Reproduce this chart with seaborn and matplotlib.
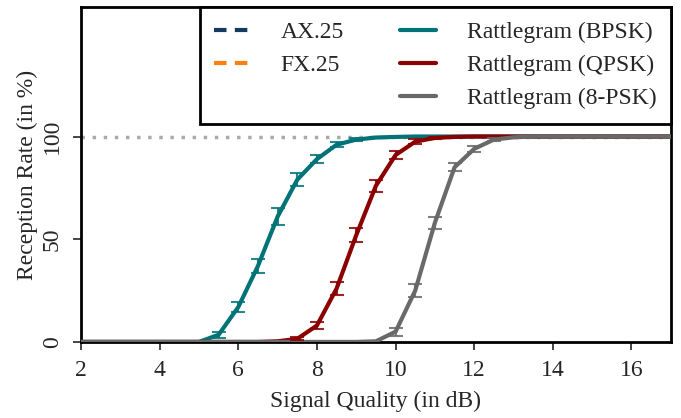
import numpy as np
import pandas as pd
import matplotlib
matplotlib.use("Agg")
import matplotlib.pyplot as plt
from matplotlib.lines import Line2D
import seaborn as sns

# ---- data ----
snr = [2, 3, 4, 5.0, 5.5, 6.0, 6.5, 7.0, 7.5, 8.0, 8.5, 9.0, 9.5, 10.0, 10.5,
       11.0, 11.5, 12.0, 12.5, 13.0, 13.5, 14, 15, 16, 17]
bpsk = [0, 0, 0, 0, 3.5, 17, 37, 61, 79, 89, 96, 98.5, 99.5, 99.8, 100,
        100, 100, 100, 100, 100, 100, 100, 100, 100, 100]
bpsk_err = [0, 0, 0, 0, 1.5, 2.5, 3.5, 4, 3, 2, 1.2, 0.8, 0.4, 0.2, 0,
            0, 0, 0, 0, 0, 0, 0, 0, 0, 0]
qpsk = [0, 0, 0, 0, 0, 0, 0, 0.3, 1.5, 8, 26, 52, 76, 91, 97.5,
        99.3, 99.8, 100, 100, 100, 100, 100, 100, 100, 100]
qpsk_err = [0, 0, 0, 0, 0, 0, 0, 0, 0.8, 1.5, 3, 3.5, 3, 2, 1.2,
            0.5, 0.2, 0, 0, 0, 0, 0, 0, 0, 0]
psk8 = [0, 0, 0, 0, 0, 0, 0, 0, 0, 0, 0, 0, 0.3, 5, 25,
        58, 85, 94, 98.5, 99.6, 100, 100, 100, 100, 100]
psk8_err = [0, 0, 0, 0, 0, 0, 0, 0, 0, 0, 0, 0, 0, 2, 3,
            3, 2, 1.5, 0.8, 0.3, 0, 0, 0, 0, 0]

series_names = ["Rattlegram (BPSK)", "Rattlegram (QPSK)", "Rattlegram (8-PSK)"]
series_vals = [bpsk, qpsk, psk8]
series_errs = [bpsk_err, qpsk_err, psk8_err]
colors = {"Rattlegram (BPSK)": "#007377",
          "Rattlegram (QPSK)": "#8b0000",
          "Rattlegram (8-PSK)": "#696969"}
other_names = ["AX.25", "FX.25"]
other_colors = ["#163a5f", "#ff7f0e"]

sns.set_style("ticks")
plt.rcParams["font.family"] = ["Liberation Serif", "DejaVu Serif"]

rows = []
for name, vals in zip(series_names, series_vals):
    for x, v in zip(snr, vals):
        rows.append({"snr": x, "rate": v, "series": name})
df = pd.DataFrame(rows)

fig = plt.figure(figsize=(6.81, 4.18), dpi=100)
ax = fig.add_axes([0.119, 0.182, 0.866, 0.801])

ax.axhline(100, color="#aaaaaa", linestyle=(0, (1, 2.2)), linewidth=2.5, zorder=1)

sns.lineplot(data=df, x="snr", y="rate", hue="series", palette=colors,
             hue_order=series_names, linewidth=3, legend=False, ax=ax,
             zorder=3)

for name, vals, errs in zip(series_names, series_vals, series_errs):
    xs = [x for x, e in zip(snr, errs) if e > 0]
    ys = [v for v, e in zip(vals, errs) if e > 0]
    es = [e for e in errs if e > 0]
    ax.errorbar(xs, ys, yerr=es, fmt="none", ecolor=colors[name],
                elinewidth=1.5, capsize=5, capthick=1.5, alpha=0.85, zorder=4)

ax.set_xlim(2, 17)
ax.set_ylim(0, 163)
ax.set_xticks([2, 4, 6, 8, 10, 12, 14, 16])
ax.set_yticks([0, 50, 100])
ax.tick_params(axis="both", labelsize=17, length=6, width=1.2, direction="out",
               pad=7)
for lbl in ax.get_yticklabels():
    lbl.set_rotation(90)
    lbl.set_va("center")
ax.set_xlabel("Signal Quality (in dB)", fontsize=17, labelpad=7)
ax.set_ylabel("Reception Rate (in %)", fontsize=17, labelpad=3)
for sp in ax.spines.values():
    sp.set_visible(True)
    sp.set_linewidth(2)
    sp.set_color("black")

handles = [Line2D([], [], color=other_colors[0], lw=3, linestyle=(0, (3, 2))),
           Line2D([], [], color=other_colors[1], lw=3, linestyle=(0, (3, 2))),
           Line2D([], [], color="none", lw=0)]
labels = other_names + [""]
for name in series_names:
    handles.append(Line2D([], [], color=colors[name], lw=3))
    labels.append(name)
leg = ax.legend(handles, labels, ncol=2, loc="upper right", fontsize=17,
                frameon=True, fancybox=False, borderaxespad=0,
                handlelength=1.5, handletextpad=1.3, columnspacing=2.4,
                labelspacing=0.48, borderpad=0.62)
leg.get_frame().set_edgecolor("black")
leg.get_frame().set_linewidth(2)
leg.get_frame().set_alpha(1)

fig.savefig("out.png", dpi=100)
